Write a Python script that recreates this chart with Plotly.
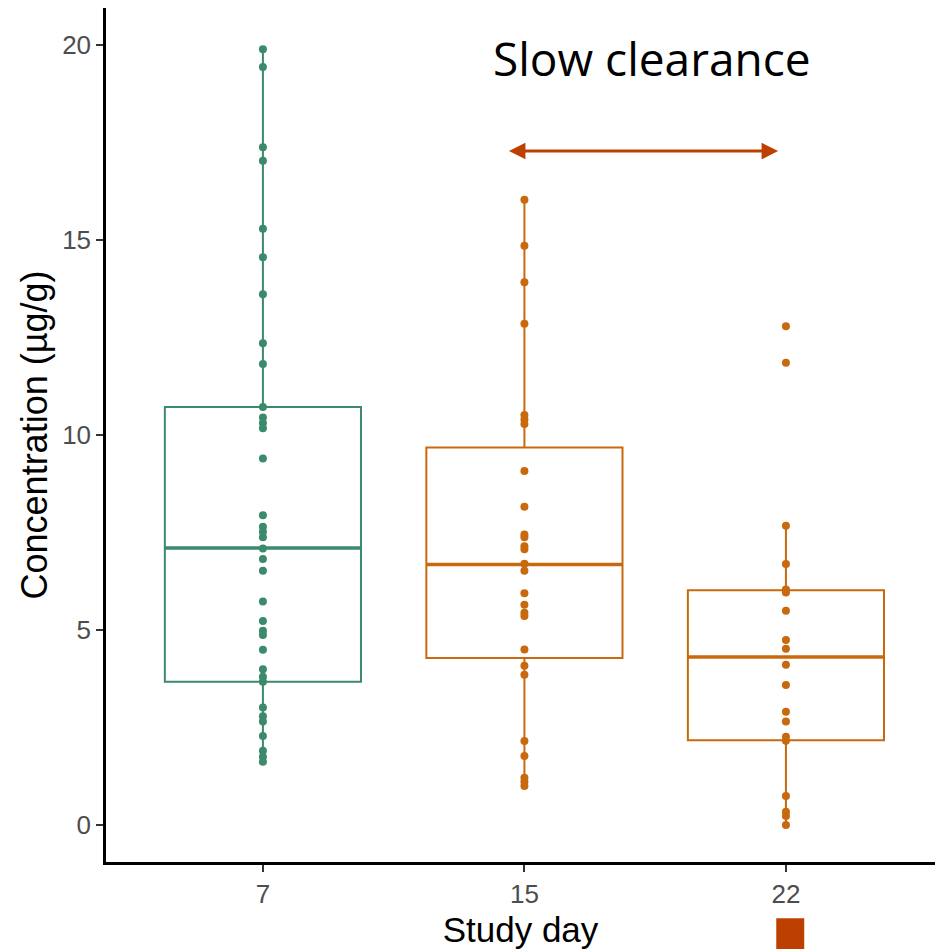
import plotly.graph_objects as go

# ---- data ----
days = ["7", "15", "22"]
day7 = [19.89, 19.44, 17.38, 17.03, 15.29, 14.56, 13.61, 12.35, 11.82, 10.72, 10.45, 10.31, 10.17,
        9.40, 7.94, 7.65, 7.52, 7.38, 7.09, 6.82, 6.52, 5.73, 5.23, 4.98, 4.87, 4.49, 3.99, 3.80,
        3.67, 3.01, 2.79, 2.65, 2.28, 1.90, 1.75, 1.62]
day15 = [16.03, 14.85, 13.92, 12.85, 10.51, 10.40, 10.28, 9.08, 8.16, 7.45, 7.38, 7.15, 7.07,
         6.70, 6.52, 5.94, 5.65, 5.44, 5.36, 4.50, 4.08, 3.85, 2.15, 1.77, 1.21, 1.11, 1.00]
day22 = [12.79, 11.85, 7.67, 6.69, 6.04, 5.96, 5.49, 4.74, 4.52, 4.11, 3.59, 2.90, 2.65, 2.26,
         2.16, 0.74, 0.34, 0.23, 0.00]
groups = [day7, day15, day22]

# box statistics (as drawn)
q1 = [3.67, 4.28, 2.17]
median = [7.10, 6.68, 4.31]
q3 = [10.72, 9.68, 6.02]
lowerfence = [1.62, 1.00, 0.00]
upperfence = [19.89, 16.03, 7.67]

colors = ["#3B8A6B", "#C8690D", "#C8690D"]
arrow_color = "#BE4000"
box_w = 0.75

fig = go.Figure()
for i, (vals, c) in enumerate(zip(groups, colors)):
    pos = i + 1
    fig.add_trace(go.Box(
        x=[pos], q1=[q1[i]], median=[median[i]], q3=[q3[i]],
        lowerfence=[lowerfence[i]], upperfence=[upperfence[i]],
        width=box_w, line=dict(color=c, width=2), fillcolor="rgba(255,255,255,0)",
        boxpoints=False, whiskerwidth=0, showlegend=False, hoverinfo="skip"))
    fig.add_trace(go.Scatter(
        x=[pos - box_w / 2, pos + box_w / 2], y=[median[i], median[i]], mode="lines",
        line=dict(color=c, width=3.5), showlegend=False, hoverinfo="skip"))
    fig.add_trace(go.Scatter(
        x=[pos] * len(vals), y=vals, mode="markers",
        marker=dict(color=c, size=8, line=dict(width=0)), showlegend=False))

fig.add_annotation(x=2.487, y=19.67, xref="x", yref="y", text="Slow clearance", showarrow=False,
                   font=dict(family="Open Sans, Noto Sans, sans-serif", size=46, color="black"))
fig.add_annotation(x=2.97, y=17.28, ax=1.935, ay=17.28, xref="x", yref="y", axref="x", ayref="y",
                   text="", showarrow=True, arrowhead=2, arrowside="end+start",
                   arrowsize=1.1, arrowwidth=3, arrowcolor=arrow_color)
fig.add_shape(type="rect", xref="x", yref="paper", x0=2.963, x1=3.07, y0=-0.066, y1=-0.11,
              fillcolor=arrow_color, line=dict(width=0))

fig.update_layout(
    width=935, height=949, margin=dict(l=106, r=0, t=8, b=87),
    plot_bgcolor="white", paper_bgcolor="white",
    font=dict(family="Liberation Sans, Arial, sans-serif"),
    xaxis=dict(range=[0.4, 3.57], tickvals=[1, 2, 3], ticktext=days, showgrid=False, zeroline=False,
               showline=True, linecolor="black", linewidth=2.5, ticks="outside", ticklen=7,
               tickwidth=2, tickcolor="#333333", tickfont=dict(size=26, color="#4D4D4D"),
               title=dict(text="Study day", font=dict(size=35, color="black"), standoff=12)),
    yaxis=dict(range=[-0.95, 20.95], tickvals=[0, 5, 10, 15, 20], showgrid=False, zeroline=False,
               showline=True, linecolor="black", linewidth=2.5, ticks="outside", ticklen=7,
               tickwidth=2, tickcolor="#333333", tickfont=dict(size=26, color="#4D4D4D"),
               title=dict(text="Concentration (µg/g)", font=dict(size=36, color="black"), standoff=4)),
)
fig.write_html("out.html")
